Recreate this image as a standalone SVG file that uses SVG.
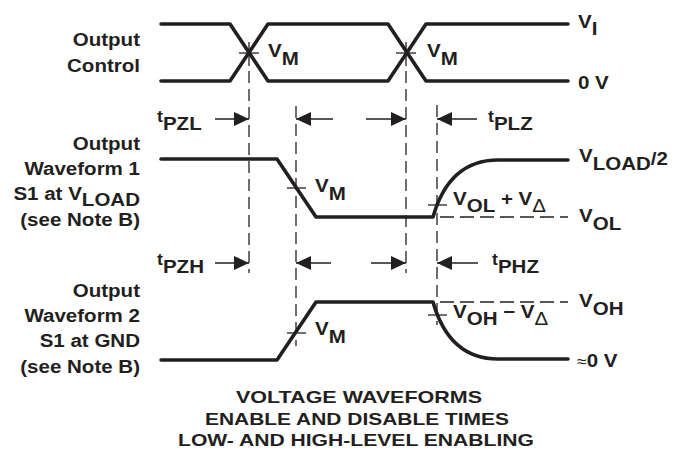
<svg xmlns="http://www.w3.org/2000/svg" width="685" height="461" viewBox="0 0 685 461">
<style>
.bg{fill:#ffffff}
.wave{fill:none;stroke:#231f20;stroke-width:3.6;stroke-linecap:round;stroke-linejoin:round}
.thin{fill:none;stroke:#231f20;stroke-width:1.3}
.dash{fill:none;stroke:#231f20;stroke-width:1.3;stroke-dasharray:12 6}
.hdash{fill:none;stroke:#231f20;stroke-width:1.3;stroke-dasharray:14 6}
.arr{fill:none;stroke:#231f20;stroke-width:1.3;marker-end:url(#ah)}
text{font-family:"Liberation Sans",Arial,sans-serif;font-weight:bold;font-size:18.5px;fill:#231f20}
.end{text-anchor:end}
.title{font-size:17px}
.reg{font-weight:normal}
.t{font-size:16px}
</style>
<defs>
<marker id="ah" viewBox="0 0 15 14" refX="15" refY="7" markerWidth="15" markerHeight="14" orient="auto" markerUnits="userSpaceOnUse">
<path d="M0,0 L15,7 L0,14 z" fill="#231f20"/>
</marker>
</defs>
<rect class="bg" x="0" y="0" width="685" height="461"/>

<g id="waveforms">
<path class="wave" d="M161,24 L230,24 L268,81 L388,81 L426,24 L568,24"/>
<path class="wave" d="M161,81 L230,81 L268,24 L388,24 L426,81 L568,81"/>
<path class="wave" d="M161,159 L277,159 L316,217 L433,217 C443,182 463,160 498,160 L568,160"/>
<path class="wave" d="M161,360 L277,360 L316,302 L433,302 C443,337 463,359 498,359 L568,359"/>
</g>

<g id="connectors">
<line class="thin" x1="249" y1="42" x2="249" y2="66"/>
<line class="thin" x1="239" y1="53" x2="259" y2="53"/>
<line class="dash" x1="249" y1="71" x2="249" y2="273"/>
<line class="thin" x1="406" y1="42" x2="406" y2="66"/>
<line class="thin" x1="396" y1="53" x2="416" y2="53"/>
<line class="dash" x1="406" y1="71" x2="406" y2="273"/>
<line class="dash" x1="296" y1="106" x2="296" y2="346"/>
<line class="dash" x1="437" y1="105" x2="437" y2="325"/>
<line class="thin" x1="287" y1="188" x2="306" y2="188"/>
<line class="thin" x1="287" y1="333" x2="306" y2="333"/>
<line class="thin" x1="428" y1="205" x2="447" y2="205"/>
<line class="thin" x1="428" y1="315" x2="447" y2="315"/>
<line class="hdash" x1="440" y1="217" x2="568" y2="217"/>
<line class="hdash" x1="440" y1="302" x2="568" y2="302"/>
<line class="arr" x1="215" y1="119" x2="249" y2="119"/>
<line class="arr" x1="333" y1="119" x2="296" y2="119"/>
<line class="arr" x1="366" y1="119" x2="406" y2="119"/>
<line class="arr" x1="477" y1="119" x2="437" y2="119"/>
<line class="arr" x1="215" y1="263" x2="249" y2="263"/>
<line class="arr" x1="331" y1="263" x2="296" y2="263"/>
<line class="arr" x1="371" y1="263" x2="406" y2="263"/>
<line class="arr" x1="478" y1="263" x2="437" y2="263"/>
</g>

<g id="label-output-control">
<text class="end" transform="translate(140,46) scale(1.11,1)">Output</text>
<text class="end" transform="translate(140,72) scale(1.11,1)">Control</text>
</g>
<g id="label-waveform1">
<text class="end" transform="translate(140,150) scale(1.11,1)">Output</text>
<text class="end" transform="translate(140,175) scale(1.11,1)">Waveform 1</text>
<text class="end" transform="translate(140,200) scale(1.11,1)">S1 at V<tspan dy="6">LOAD</tspan></text>
<text class="end" transform="translate(140,226) scale(1.11,1)">(see Note B)</text>
</g>
<g id="label-waveform2">
<text class="end" transform="translate(140,297) scale(1.11,1)">Output</text>
<text class="end" transform="translate(140,322) scale(1.11,1)">Waveform 2</text>
<text class="end" transform="translate(140,347) scale(1.11,1)">S1 at GND</text>
<text class="end" transform="translate(140,373) scale(1.11,1)">(see Note B)</text>
</g>

<g id="levels">
<text transform="translate(578,28) scale(1.11,1)">V<tspan dy="7">I</tspan></text>
<text transform="translate(578,89) scale(1.11,1)">0 V</text>
<text transform="translate(579,162) scale(1.11,1)">V<tspan dy="8">LOAD</tspan><tspan dy="-5">/2</tspan></text>
<text transform="translate(579,222) scale(1.11,1)">V<tspan dy="8">OL</tspan></text>
<text transform="translate(579,307) scale(1.11,1)">V<tspan dy="8">OH</tspan></text>
<text transform="translate(577,367) scale(1.11,1)"><tspan class="reg" font-size="16">≈</tspan>0 V</text>
</g>

<g id="vm-labels">
<text transform="translate(268,57) scale(1.11,1)">V<tspan dy="8">M</tspan></text>
<text transform="translate(427,57) scale(1.11,1)">V<tspan dy="8">M</tspan></text>
<text transform="translate(315,192) scale(1.11,1)">V<tspan dy="8">M</tspan></text>
<text transform="translate(315,335) scale(1.11,1)">V<tspan dy="8">M</tspan></text>
<text transform="translate(453,205) scale(1.11,1)">V<tspan dy="7">OL</tspan><tspan dy="-7"> + V</tspan><tspan class="reg" dy="7">Δ</tspan></text>
<text transform="translate(453,318) scale(1.11,1)">V<tspan dy="7">OH</tspan><tspan dy="-7"> − V</tspan><tspan class="reg" dy="7">Δ</tspan></text>
</g>

<g id="timing-labels">
<text transform="translate(157,122) scale(1.11,1)"><tspan class="t">t</tspan><tspan dy="8">PZL</tspan></text>
<text transform="translate(488,122) scale(1.11,1)"><tspan class="t">t</tspan><tspan dy="8">PLZ</tspan></text>
<text transform="translate(157,265) scale(1.11,1)"><tspan class="t">t</tspan><tspan dy="8">PZH</tspan></text>
<text transform="translate(492,265) scale(1.11,1)"><tspan class="t">t</tspan><tspan dy="8">PHZ</tspan></text>
</g>

<g id="title">
<text class="title" x="236" y="403" textLength="246" lengthAdjust="spacingAndGlyphs">VOLTAGE WAVEFORMS</text>
<text class="title" x="205" y="425" textLength="304" lengthAdjust="spacingAndGlyphs">ENABLE AND DISABLE TIMES</text>
<text class="title" x="178" y="446" textLength="356" lengthAdjust="spacingAndGlyphs">LOW- AND HIGH-LEVEL ENABLING</text>
</g>
</svg>
